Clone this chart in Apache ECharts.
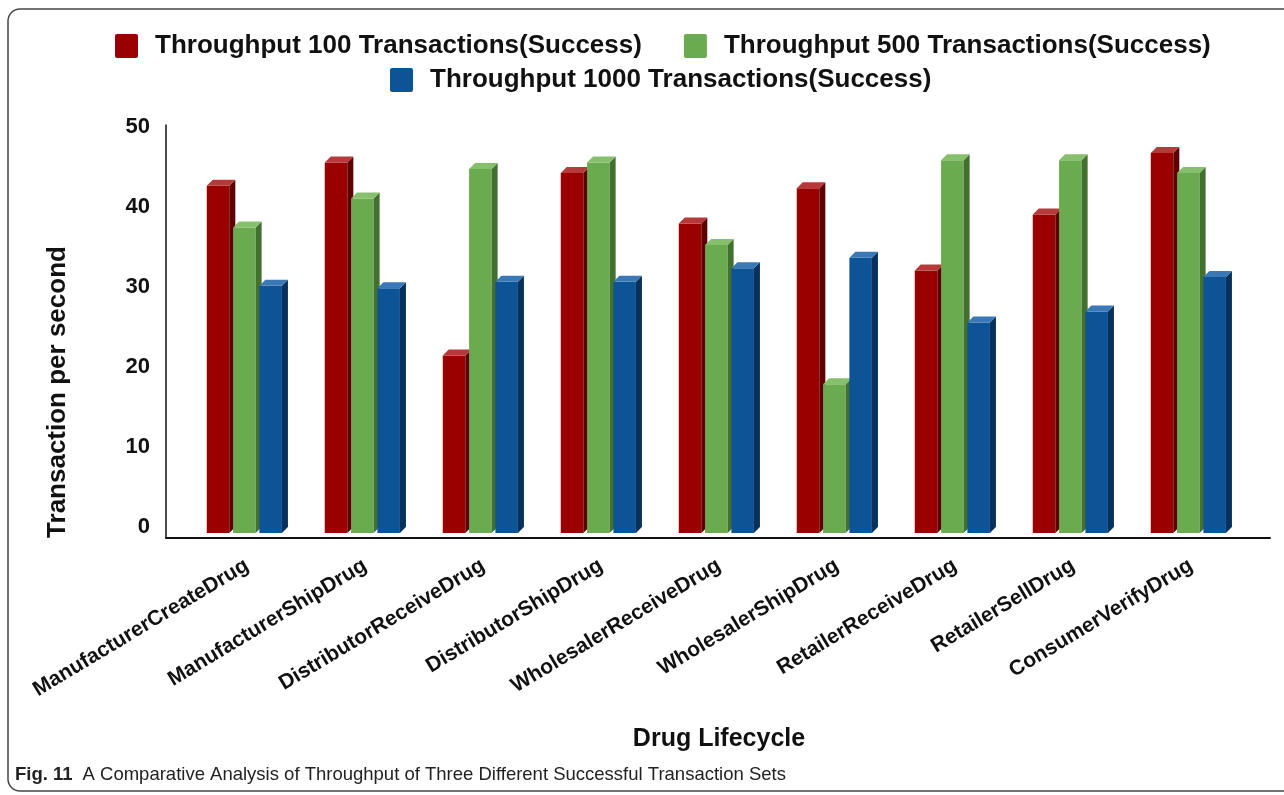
<!DOCTYPE html>
<html>
<head>
<meta charset="utf-8">
<script src="https://cdn.jsdelivr.net/npm/echarts@6/dist/echarts.min.js"></script>
<style>
  html, body { margin: 0; padding: 0; background: #ffffff; }
  #chart { width: 1284px; height: 795px; }
</style>
</head>
<body>
<div id="chart"></div>
<script>
// Drug lifecycle stages (x axis)
const categories = [
  'ManufacturerCreateDrug', 'ManufacturerShipDrug', 'DistributorReceiveDrug',
  'DistributorShipDrug', 'WholesalerReceiveDrug', 'WholesalerShipDrug',
  'RetailerReceiveDrug', 'RetailerSellDrug', 'ConsumerVerifyDrug'
];

const seriesNames = [
  'Throughput 100 Transactions(Success)',
  'Throughput 500 Transactions(Success)',
  'Throughput 1000 Transactions(Success)'
];

// Transactions per second for each transaction set
const tp100  = [43.4, 46.3, 22.2, 45.0, 38.7, 43.1, 32.8, 39.8, 47.5];
const tp500  = [38.2, 41.8, 45.5, 46.3, 36.0, 18.6, 46.6, 46.6, 45.0];
const tp1000 = [30.9, 30.6, 31.4, 31.4, 33.1, 34.4, 26.3, 27.7, 32.0];

// Y axis ticks
const yMin = 0, yMax = 50, yStep = 10;

const FONT = "'Liberation Sans', Arial, sans-serif";

// front / side / top shades for the pseudo-3D columns
const shades = [
  { front: '#9b0000', side: '#5f0000', top: '#b73a3a' },
  { front: '#6aab50', side: '#41702f', top: '#87c06d' },
  { front: '#0d5496', side: '#08325c', top: '#3b78b6' }
];

function makeRender(k) {
  const sh = shades[k];
  return function (params, api) {
    const i = api.value(0);
    const v = api.value(1);
    const band = api.size([1, 0])[0];
    const step = band * 0.223;
    const w = band * 0.191;
    const d = band * 0.051;
    const top = api.coord([i, v]);
    const base = api.coord([i, 0]);
    const xf = top[0] - band * 0.341 + k * step;
    const yt = top[1];
    const yb = base[1];
    return {
      type: 'group',
      children: [
        {
          type: 'rect',
          shape: { x: xf, y: yt + d, width: w, height: yb - yt },
          style: { fill: sh.front }
        },
        {
          type: 'polygon',
          shape: { points: [[xf + w, yt + d], [xf + w + d, yt], [xf + w + d, yb], [xf + w, yb + d]] },
          style: { fill: sh.side }
        },
        {
          type: 'polygon',
          shape: { points: [[xf, yt + d], [xf + d, yt], [xf + w + d, yt], [xf + w, yt + d]] },
          style: { fill: sh.top }
        }
      ]
    };
  };
}

const seriesData = [tp100, tp500, tp1000];

const chart = echarts.init(document.getElementById('chart'), null, { renderer: 'canvas' });

const legendText = { fontFamily: FONT, fontWeight: 'bold', fontSize: 26, color: '#111', padding: [0, 0, 0, 12] };
// small-radius square marker
const legendIcon = 'path://M2,0H21Q23,0 23,2V22Q23,24 21,24H2Q0,24 0,22V2Q0,0 2,0Z';

chart.setOption({
  backgroundColor: '#ffffff',
  animation: false,
  color: shades.map(s => s.front),
  legend: [
    {
      data: [seriesNames[0], seriesNames[1]],
      left: 110, top: 28,
      itemWidth: 23, itemHeight: 24, itemGap: 42,
      icon: legendIcon,
      textStyle: legendText
    },
    {
      data: [seriesNames[2]],
      left: 385, top: 62,
      itemWidth: 23, itemHeight: 24,
      icon: legendIcon,
      textStyle: legendText
    }
  ],
  title: [
    {
      text: '{b|Fig. 11}  {r|A Comparative Analysis of Throughput of Three Different Successful Transaction Sets}',
      left: 10, top: 759,
      textStyle: {
        rich: {
          b: { fontFamily: FONT, fontWeight: 'bold', fontSize: 18.5, lineHeight: 22, color: '#222' },
          r: { fontFamily: FONT, fontWeight: 'normal', fontSize: 18.5, lineHeight: 22, color: '#222' }
        }
      }
    }
  ],
  grid: [
    // frame axes (floor edge and left wall)
    { left: 166, right: 14, top: 125, bottom: 257 },
    // data area
    { left: 188, right: 34, top: 127, bottom: 268 }
  ],
  xAxis: [
    {
      gridIndex: 0, type: 'category', data: categories,
      axisLine: { lineStyle: { color: '#111', width: 2 } },
      axisTick: { show: false }, axisLabel: { show: false }
    },
    {
      gridIndex: 1, type: 'category', data: categories,
      axisLine: { show: false }, axisTick: { show: false },
      axisLabel: {
        interval: 0, rotate: 31, margin: 37,
        fontFamily: FONT, fontWeight: 'bold', fontSize: 21, color: '#111'
      }
    }
  ],
  yAxis: [
    {
      gridIndex: 0, type: 'value', min: yMin, max: yMax,
      axisLine: { show: true, lineStyle: { color: '#111', width: 1.5 } },
      axisTick: { show: false }, axisLabel: { show: false }, splitLine: { show: false }
    },
    {
      gridIndex: 1, type: 'value', min: yMin, max: yMax, interval: yStep,
      axisLine: { show: false }, axisTick: { show: false }, splitLine: { show: false },
      axisLabel: { margin: 38, fontFamily: FONT, fontWeight: 'bold', fontSize: 22, color: '#111' }
    }
  ],
  graphic: [
    {
      type: 'rect', silent: true,
      shape: { x: 8, y: 9, width: 1300, height: 782, r: 12 },
      style: { fill: 'none', stroke: '#444', lineWidth: 1.5 }
    },
    {
      type: 'text', x: 58, y: 392, rotation: Math.PI / 2, silent: true,
      style: {
        text: 'Transaction per second', font: "bold 26px " + FONT,
        fill: '#111', textAlign: 'center', textVerticalAlign: 'middle'
      }
    },
    {
      type: 'text', x: 719, y: 739, silent: true,
      style: {
        text: 'Drug Lifecycle', font: "bold 25px " + FONT,
        fill: '#111', textAlign: 'center', textVerticalAlign: 'middle'
      }
    }
  ],
  series: seriesData.map((vals, k) => ({
    name: seriesNames[k],
    type: 'custom',
    xAxisIndex: 1, yAxisIndex: 1,
    clip: false,
    itemStyle: { color: shades[k].front },
    renderItem: makeRender(k),
    encode: { x: 0, y: 1 },
    data: vals.map((v, i) => [i, v])
  }))
});
</script>
</body>
</html>
